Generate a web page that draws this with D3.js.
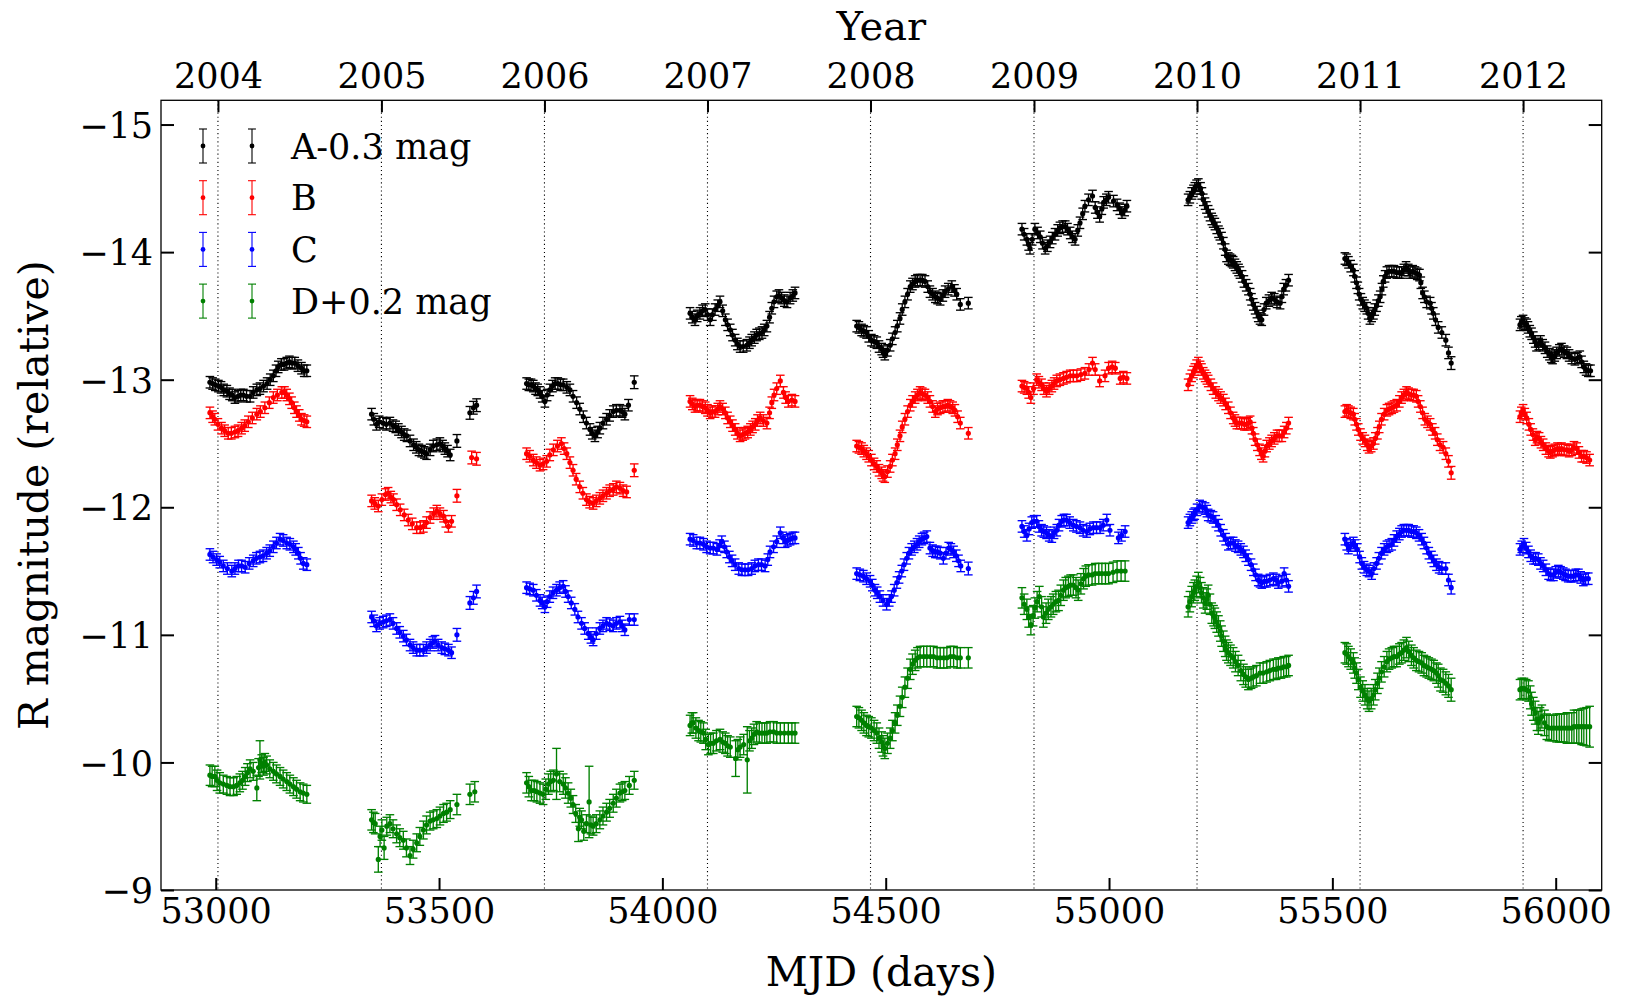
<!DOCTYPE html>
<html>
<head>
<meta charset="utf-8">
<script src="https://cdn.jsdelivr.net/npm/d3@7"></script>
<style>
  body { margin: 0; background: #fff; }
  svg { display: block; }
  text { font-family: "DejaVu Serif", serif; fill: #000; }
</style>
</head>
<body>
<div id="chart"></div>
<script>
// Light curves of the four lensed images (R band): MJD vs magnitude
// each point: [MJD, magnitude] or [MJD, magnitude, error]; missing error -> series default

const seriesNames = ["A-0.3 mag", "B", "C", "D+0.2 mag"];
const seriesColors = ["#000000", "#ff0000", "#0000ff", "#008000"];
const defaultErr = [0.045, 0.045, 0.045, 0.08];

const yearLabels = ["2004", "2005", "2006", "2007", "2008", "2009", "2010", "2011", "2012"];
const yearMjd = [53005, 53371, 53736, 54101, 54466, 54832, 55197, 55562, 55927];
const mjdTicks = [53000, 53500, 54000, 54500, 55000, 55500, 56000];
const magTicks = [-15, -14, -13, -12, -11, -10, -9];

const seriesA = [
  [52987,-12.98],[52993,-12.97],[52999,-12.96],[53006,-12.95],[53012,-12.94],[53018,-12.92],[53025,-12.91],[53031,-12.89],
  [53037,-12.88],[53043,-12.86],[53050,-12.87],[53056,-12.88],[53062,-12.88],[53069,-12.87],[53077,-12.87],[53084,-12.90],
  [53092,-12.92],[53099,-12.93],[53107,-12.95],[53115,-12.97],[53122,-13.00],[53129,-13.03],[53135,-13.07],[53140,-13.10],
  [53147,-13.12],[53153,-13.12],[53159,-13.13],[53165,-13.14],[53171,-13.13],[53177,-13.13],[53184,-13.11],[53192,-13.09],
  [53198,-13.07],[53204,-13.07],
  [53349,-12.73],[53354,-12.69],[53360,-12.65],[53366,-12.67],[53375,-12.66],[53382,-12.65],[53390,-12.66],[53397,-12.64],
  [53403,-12.63],[53409,-12.61],[53416,-12.59],[53422,-12.57],[53428,-12.56],[53435,-12.52],[53443,-12.49],[53449,-12.47],
  [53455,-12.45],[53461,-12.44],[53467,-12.43],[53472,-12.42],[53480,-12.45],[53487,-12.48],[53495,-12.49],[53502,-12.50],
  [53508,-12.48],[53513,-12.46],[53519,-12.44],[53525,-12.41],[53540,-12.52,.05],[53569,-12.74,.05],[53577,-12.78,.05],[53584,-12.80,.05],
  [53696,-12.97],[53701,-12.96],[53706,-12.96],[53711,-12.95],[53716,-12.93],[53721,-12.92],[53726,-12.90],[53731,-12.87],
  [53737,-12.83],[53742,-12.88],[53748,-12.92],[53754,-12.95],[53760,-12.97],[53766,-12.97],[53772,-12.96],[53778,-12.96],
  [53786,-12.94],[53793,-12.92],[53800,-12.87],[53808,-12.82],[53815,-12.77],[53823,-12.71],[53830,-12.66],[53838,-12.61],
  [53843,-12.58],[53849,-12.56],[53855,-12.59],[53860,-12.62],[53867,-12.66],[53875,-12.69],[53882,-12.72],[53890,-12.75],
  [53897,-12.76],[53905,-12.76],[53910,-12.75],[53916,-12.73],[53924,-12.80],[53937,-12.98,.05],
  [54062,-13.52],[54067,-13.49],[54073,-13.47],[54078,-13.50],[54084,-13.52],[54090,-13.54],[54096,-13.55],[54101,-13.51],
  [54107,-13.47],[54112,-13.51],[54118,-13.55],[54124,-13.58],[54129,-13.61],[54135,-13.54],[54141,-13.47],[54146,-13.43],
  [54152,-13.39],[54157,-13.35],[54163,-13.31],[54168,-13.28],[54174,-13.26],[54181,-13.26],[54189,-13.27],[54195,-13.29],
  [54200,-13.31],[54206,-13.33],[54211,-13.35],[54217,-13.36],[54223,-13.37],[54228,-13.39],[54234,-13.42],[54240,-13.49],
  [54245,-13.56],[54250,-13.61],[54256,-13.65],[54261,-13.66],[54267,-13.64],[54273,-13.62],[54279,-13.61],[54286,-13.64],
  [54292,-13.66],[54297,-13.68],
  [54435,-13.42],[54440,-13.41],[54446,-13.39],[54451,-13.38],[54457,-13.37],[54462,-13.34],[54468,-13.31],[54474,-13.30],
  [54480,-13.29],[54485,-13.26],[54491,-13.24],[54494,-13.22],[54498,-13.20],[54504,-13.23],[54510,-13.27],[54515,-13.32],
  [54521,-13.37],[54526,-13.42],[54532,-13.48],[54537,-13.55],[54543,-13.61],[54549,-13.67],[54555,-13.73],[54560,-13.75],
  [54566,-13.77],[54571,-13.78],[54577,-13.78],[54582,-13.78],[54588,-13.77],[54594,-13.73],[54599,-13.69],[54605,-13.67],
  [54611,-13.65],[54616,-13.64],[54622,-13.63],[54628,-13.66],[54633,-13.69],[54640,-13.71],[54648,-13.73],[54654,-13.70],
  [54659,-13.67],[54667,-13.59],[54685,-13.60],
  [54805,-14.18],[54810,-14.14],[54816,-14.10],[54820,-14.06],[54823,-14.03],[54828,-14.10],[54834,-14.18],[54840,-14.15],
  [54846,-14.12],[54851,-14.07],[54857,-14.03],[54862,-14.05],[54868,-14.08],[54873,-14.11],[54879,-14.14],[54885,-14.17],
  [54890,-14.19],[54896,-14.20],[54902,-14.20],[54907,-14.18],[54913,-14.15],[54918,-14.12],[54924,-14.10],[54930,-14.17],
  [54935,-14.23],[54941,-14.30],[54946,-14.36],[54954,-14.41],[54963,-14.44],[54969,-14.35],[54974,-14.31],[54979,-14.28],
  [54984,-14.34],[54988,-14.39],[54994,-14.41],[54999,-14.43],[55010,-14.40],[55018,-14.37],[55024,-14.34],[55029,-14.31],
  [55035,-14.33],[55040,-14.36],
  [55177,-14.41],[55181,-14.43],[55185,-14.46],[55189,-14.48],[55192,-14.50],[55196,-14.52],[55200,-14.53],[55205,-14.50],
  [55208,-14.46],[55211,-14.41],[55215,-14.38],[55218,-14.35],[55222,-14.32],[55226,-14.29],[55230,-14.26],[55233,-14.24],
  [55237,-14.22],[55241,-14.19],[55245,-14.16],[55248,-14.14],[55252,-14.11],[55256,-14.07],[55260,-14.02],[55263,-13.97],
  [55267,-13.95],[55271,-13.94],[55275,-13.93],[55278,-13.92],[55282,-13.90],[55286,-13.88],[55290,-13.86],[55293,-13.84],
  [55298,-13.81],[55302,-13.77],[55307,-13.74],[55312,-13.71],[55316,-13.67],[55319,-13.63],[55323,-13.59],[55327,-13.56],
  [55331,-13.53],[55334,-13.50],[55338,-13.48],[55342,-13.47],[55347,-13.55],[55352,-13.60],[55358,-13.62],[55364,-13.64],
  [55370,-13.63],[55376,-13.61],[55383,-13.60],[55387,-13.65],[55391,-13.71],[55396,-13.74],[55402,-13.78],
  [55528,-13.95],[55532,-13.94],[55536,-13.92],[55541,-13.89],[55547,-13.86],[55550,-13.81],[55554,-13.76],[55557,-13.72],
  [55560,-13.67],[55564,-13.63],[55568,-13.60],[55572,-13.58],[55577,-13.56],[55580,-13.52],[55584,-13.48],[55588,-13.50],
  [55592,-13.52],[55595,-13.55],[55599,-13.58],[55603,-13.62],[55607,-13.65],[55611,-13.71],[55614,-13.77],[55618,-13.81],
  [55622,-13.84],[55627,-13.85],[55633,-13.85],[55638,-13.85],[55644,-13.84],[55650,-13.84],[55655,-13.84],[55660,-13.86],
  [55665,-13.88],[55670,-13.86],[55674,-13.84],[55680,-13.85],[55685,-13.84],[55690,-13.83],[55695,-13.82],[55698,-13.76],
  [55702,-13.68],[55706,-13.65],[55711,-13.61],[55719,-13.60],[55722,-13.56],[55726,-13.52],[55731,-13.47],[55737,-13.41],
  [55745,-13.37],[55754,-13.31],[55760,-13.21],[55766,-13.13,.05],
  [55920,-13.43],[55923,-13.45],[55927,-13.46],[55931,-13.44],[55935,-13.43],[55938,-13.41],[55942,-13.38],[55946,-13.36],
  [55950,-13.33],[55954,-13.30],[55957,-13.27],[55962,-13.28],[55966,-13.30],[55971,-13.27],[55976,-13.25],[55981,-13.22],
  [55986,-13.20],[55990,-13.18],[55993,-13.17],[55998,-13.19],[56002,-13.21],[56008,-13.23],[56013,-13.24],[56019,-13.22],
  [56025,-13.21],[56030,-13.19],[56036,-13.17],[56043,-13.16],[56049,-13.17],[56054,-13.18],[56058,-13.14],[56063,-13.10],
  [56068,-13.08],[56073,-13.07],[56078,-13.07]
];

const seriesB = [
  [52987,-12.74],[52993,-12.71],[52998,-12.69],[53005,-12.65],[53013,-12.62],[53020,-12.60],[53028,-12.58],[53035,-12.58],
  [53043,-12.59],[53050,-12.60],[53058,-12.62],[53065,-12.64],[53073,-12.67],[53082,-12.70],[53092,-12.73],[53100,-12.75],
  [53110,-12.78],[53120,-12.82],[53129,-12.86],[53138,-12.88],[53148,-12.90],[53154,-12.90],[53159,-12.88],[53165,-12.85],
  [53170,-12.82],[53176,-12.78],[53181,-12.75],[53187,-12.72],[53192,-12.69],[53198,-12.68],[53204,-12.67],
  [53349,-12.05],[53356,-12.03],[53364,-12.01],[53372,-12.06],[53380,-12.10],[53386,-12.11],[53392,-12.08],[53398,-12.06],
  [53405,-12.02],[53413,-11.98],[53422,-11.94],[53431,-11.90],[53440,-11.87],[53450,-11.84],[53458,-11.84],[53465,-11.85],
  [53472,-11.88],[53480,-11.92],[53488,-11.95],[53495,-11.97],[53502,-11.95],[53510,-11.93],[53515,-11.89],[53521,-11.85],
  [53528,-11.89],[53540,-12.09,.05],[53573,-12.39,.05],[53584,-12.38,.05],
  [53696,-12.42],[53703,-12.40],[53711,-12.37],[53718,-12.35],[53726,-12.33],[53733,-12.34],[53741,-12.36],[53748,-12.41],
  [53756,-12.45],[53765,-12.48],[53774,-12.50],[53780,-12.46],[53786,-12.42],[53793,-12.35],[53800,-12.29],[53807,-12.22],
  [53815,-12.16],[53822,-12.11],[53830,-12.06],[53837,-12.04],[53845,-12.03],[53852,-12.05],[53860,-12.07],[53867,-12.09],
  [53875,-12.11],[53882,-12.13],[53890,-12.14],[53897,-12.16],[53905,-12.15],[53912,-12.13],[53920,-12.12],[53937,-12.29,.05],
  [54062,-12.83],[54067,-12.81],[54073,-12.79],[54078,-12.80],[54084,-12.80],[54090,-12.79],[54096,-12.78],[54101,-12.76],
  [54107,-12.74],[54112,-12.75],[54118,-12.75],[54124,-12.77],[54129,-12.79],[54135,-12.77],[54141,-12.74],[54146,-12.70],
  [54152,-12.67],[54157,-12.64],[54163,-12.61],[54168,-12.58],[54174,-12.56],[54180,-12.57],[54185,-12.58],[54191,-12.59],
  [54197,-12.61],[54202,-12.63],[54208,-12.65],[54213,-12.68],[54219,-12.70],[54226,-12.68],[54234,-12.66],[54240,-12.74],
  [54245,-12.82],[54250,-12.88],[54256,-12.93],[54264,-12.99],[54271,-12.90],[54276,-12.86],[54282,-12.83],[54290,-12.84],
  [54297,-12.83],
  [54435,-12.48],[54440,-12.47],[54446,-12.46],[54451,-12.44],[54457,-12.42],[54462,-12.40],[54468,-12.37],[54474,-12.34],
  [54480,-12.32],[54485,-12.29],[54491,-12.27],[54494,-12.25],[54498,-12.24],[54504,-12.28],[54510,-12.32],[54515,-12.37],
  [54521,-12.42],[54526,-12.49],[54532,-12.56],[54537,-12.63],[54543,-12.69],[54549,-12.75],[54555,-12.80],[54560,-12.83],
  [54566,-12.86],[54571,-12.88],[54577,-12.90],[54582,-12.89],[54588,-12.88],[54594,-12.86],[54599,-12.83],[54605,-12.79],
  [54611,-12.75],[54616,-12.77],[54622,-12.78],[54628,-12.79],[54633,-12.79],[54639,-12.80],[54644,-12.79],[54650,-12.78],
  [54655,-12.76],[54661,-12.71],[54667,-12.66],[54685,-12.58],
  [54805,-12.95],[54810,-12.94],[54816,-12.93],[54820,-12.90],[54825,-12.86],[54831,-12.93],[54838,-13.00],[54843,-12.98],
  [54849,-12.96],[54854,-12.93],[54860,-12.91],[54866,-12.93],[54872,-12.95],[54877,-12.97],[54883,-12.99],[54890,-13.00],
  [54898,-13.01],[54905,-13.02],[54913,-13.03],[54920,-13.03],[54928,-13.03],[54937,-13.04],[54946,-13.05],[54955,-13.08],
  [54963,-13.13],[54969,-13.08],[54979,-12.99],[54991,-13.03],[54999,-13.09],[55007,-13.10],[55014,-13.09],[55025,-13.01],
  [55032,-13.02],[55040,-13.01],
  [55177,-12.96],[55181,-13.00],[55185,-13.03],[55189,-13.06],[55192,-13.08],[55196,-13.11],[55200,-13.13],[55204,-13.10],
  [55207,-13.08],[55211,-13.05],[55215,-13.03],[55219,-13.01],[55222,-12.99],[55228,-12.96],[55233,-12.93],[55239,-12.90],
  [55245,-12.88],[55250,-12.86],[55256,-12.84],[55261,-12.81],[55267,-12.78],[55272,-12.74],[55278,-12.70],[55282,-12.68],
  [55286,-12.66],[55292,-12.66],[55297,-12.66],[55303,-12.65],[55308,-12.65],[55312,-12.66],[55316,-12.67],[55320,-12.62],
  [55323,-12.58],[55327,-12.53],[55332,-12.49],[55337,-12.45],[55341,-12.42],[55345,-12.40],[55349,-12.44],[55353,-12.48],
  [55359,-12.50],[55364,-12.52],[55370,-12.54],[55376,-12.56],[55381,-12.56],[55387,-12.56],[55392,-12.59],[55397,-12.62],
  [55402,-12.66],
  [55528,-12.75],[55532,-12.76],[55536,-12.75],[55541,-12.74],[55547,-12.73],[55550,-12.69],[55554,-12.65],[55558,-12.61],
  [55563,-12.57],[55568,-12.54],[55573,-12.52],[55578,-12.49],[55582,-12.47],[55587,-12.48],[55592,-12.50],[55596,-12.54],
  [55601,-12.58],[55605,-12.63],[55610,-12.69],[55616,-12.73],[55622,-12.76],[55627,-12.77],[55633,-12.78],[55638,-12.79],
  [55644,-12.80],[55650,-12.83],[55655,-12.86],[55660,-12.88],[55666,-12.90],[55671,-12.89],[55677,-12.88],[55682,-12.88],
  [55688,-12.87],[55692,-12.83],[55697,-12.79],[55702,-12.74],[55707,-12.69],[55713,-12.67],[55719,-12.65],[55724,-12.61],
  [55730,-12.58],[55735,-12.53],[55741,-12.49],[55748,-12.47],[55754,-12.42],[55760,-12.36],[55766,-12.27,.05],
  [55920,-12.71],[55923,-12.74],[55927,-12.76],[55931,-12.73],[55935,-12.70],[55940,-12.65],[55944,-12.61],[55949,-12.57],
  [55954,-12.53],[55958,-12.55],[55963,-12.54],[55967,-12.51],[55972,-12.49],[55978,-12.46],[55984,-12.44],[55988,-12.43],
  [55993,-12.44],[55998,-12.45],[56004,-12.46],[56008,-12.45],[56013,-12.46],[56019,-12.45],[56025,-12.45],[56030,-12.44],
  [56036,-12.45],[56041,-12.47],[56047,-12.46],[56052,-12.43],[56058,-12.40],[56063,-12.40],[56069,-12.39],[56076,-12.37]
];

const seriesC = [
  [52987,-11.63],[52994,-11.61],[53002,-11.59],[53009,-11.57],[53017,-11.54],[53026,-11.52],[53036,-11.50],[53043,-11.52],
  [53051,-11.54],[53058,-11.54],[53066,-11.53],[53075,-11.56],[53084,-11.58],[53091,-11.60],[53099,-11.61],[53106,-11.62],
  [53114,-11.64],[53121,-11.66],[53129,-11.69],[53136,-11.72],[53144,-11.75],[53151,-11.74],[53159,-11.72],[53166,-11.71],
  [53174,-11.69],[53179,-11.67],[53185,-11.64],[53190,-11.60],[53196,-11.56],[53204,-11.55],
  [53349,-11.14],[53354,-11.11],[53360,-11.07],[53367,-11.09],[53375,-11.10],[53382,-11.11],[53390,-11.12],[53397,-11.09],
  [53405,-11.05],[53412,-11.02],[53420,-10.99],[53427,-10.96],[53435,-10.92],[53442,-10.90],[53450,-10.88],[53457,-10.88],
  [53465,-10.88],[53472,-10.90],[53480,-10.92],[53486,-10.94],[53491,-10.95],[53498,-10.92],[53506,-10.90],[53513,-10.89],
  [53521,-10.88],[53528,-10.86],[53540,-11.00,.05],[53569,-11.25,.05],[53577,-11.29,.05],[53584,-11.34,.05],
  [53696,-11.37],[53703,-11.36],[53711,-11.35],[53718,-11.31],[53726,-11.27],[53731,-11.25],[53737,-11.22],[53742,-11.26],
  [53748,-11.30],[53755,-11.33],[53763,-11.35],[53770,-11.37],[53778,-11.38],[53783,-11.34],[53789,-11.30],[53796,-11.25],
  [53804,-11.20],[53811,-11.14],[53819,-11.09],[53826,-11.05],[53834,-11.01],[53840,-10.98],[53845,-10.96],[53852,-11.01],
  [53860,-11.05],[53867,-11.07],[53875,-11.09],[53882,-11.08],[53890,-11.07],[53897,-11.09],[53905,-11.10],[53910,-11.07],
  [53916,-11.04],[53926,-11.12],[53937,-11.12],
  [54062,-11.75],[54069,-11.74],[54077,-11.72],[54084,-11.72],[54092,-11.71],[54099,-11.69],[54107,-11.68],[54114,-11.68],
  [54122,-11.67],[54128,-11.70],[54133,-11.73],[54139,-11.69],[54144,-11.65],[54150,-11.61],[54156,-11.58],[54163,-11.55],
  [54171,-11.52],[54178,-11.51],[54185,-11.51],[54192,-11.51],[54200,-11.52],[54207,-11.54],[54215,-11.55],[54222,-11.55],
  [54230,-11.54],[54236,-11.59],[54241,-11.65],[54249,-11.69],[54256,-11.73],[54264,-11.80],[54270,-11.76],[54275,-11.73],
  [54280,-11.74],[54286,-11.75],[54292,-11.76],[54297,-11.76],
  [54435,-11.48],[54442,-11.47],[54450,-11.46],[54457,-11.44],[54465,-11.42],[54470,-11.39],[54476,-11.35],[54481,-11.33],
  [54487,-11.30],[54494,-11.27],[54502,-11.24],[54508,-11.27],[54513,-11.30],[54519,-11.35],[54525,-11.41],[54530,-11.45],
  [54536,-11.50],[54541,-11.55],[54547,-11.60],[54552,-11.64],[54558,-11.67],[54564,-11.69],[54570,-11.71],[54575,-11.73],
  [54581,-11.75],[54586,-11.76],[54592,-11.77],[54599,-11.68],[54605,-11.66],[54611,-11.65],[54616,-11.65],[54622,-11.64],
  [54629,-11.60],[54635,-11.64],[54641,-11.68],[54646,-11.67],[54652,-11.65],[54658,-11.62],[54663,-11.58],[54668,-11.54],
  [54685,-11.52,.05],
  [54805,-11.85],[54810,-11.81],[54816,-11.78],[54821,-11.83],[54827,-11.88],[54832,-11.89],[54838,-11.89],[54843,-11.85],
  [54849,-11.82],[54854,-11.81],[54860,-11.80],[54866,-11.78],[54872,-11.77],[54877,-11.80],[54883,-11.82],[54888,-11.86],
  [54894,-11.89],[54899,-11.90],[54905,-11.90],[54912,-11.88],[54920,-11.86],[54927,-11.85],[54935,-11.84],[54942,-11.82],
  [54950,-11.81],[54957,-11.83],[54965,-11.84],[54972,-11.84],[54980,-11.84],[54987,-11.86],[54995,-11.90],[55002,-11.82],
  [55021,-11.76],[55028,-11.78],[55036,-11.81],
  [55177,-11.88],[55181,-11.90],[55185,-11.92],[55189,-11.94],[55192,-11.95],[55197,-11.98],[55203,-12.01],[55209,-12.00],
  [55215,-11.99],[55219,-11.97],[55222,-11.94],[55228,-11.93],[55233,-11.92],[55239,-11.89],[55245,-11.86],[55250,-11.82],
  [55256,-11.78],[55261,-11.75],[55267,-11.71],[55272,-11.72],[55278,-11.72],[55283,-11.70],[55289,-11.69],[55295,-11.67],
  [55301,-11.65],[55306,-11.62],[55312,-11.59],[55318,-11.55],[55323,-11.51],[55328,-11.47],[55334,-11.43],[55338,-11.42],
  [55342,-11.41],[55348,-11.42],[55353,-11.42],[55360,-11.43],[55368,-11.44],[55374,-11.43],[55379,-11.41],[55387,-11.42],
  [55392,-11.48],[55397,-11.43],[55402,-11.38],
  [55528,-11.75],[55532,-11.71],[55536,-11.68],[55541,-11.70],[55547,-11.72],[55551,-11.70],[55556,-11.67],[55561,-11.61],
  [55566,-11.56],[55571,-11.53],[55577,-11.51],[55582,-11.50],[55588,-11.48],[55593,-11.52],[55599,-11.56],[55604,-11.60],
  [55610,-11.64],[55616,-11.67],[55622,-11.69],[55627,-11.70],[55633,-11.71],[55638,-11.74],[55644,-11.77],[55650,-11.79],
  [55655,-11.81],[55660,-11.82],[55666,-11.82],[55671,-11.82],[55677,-11.81],[55682,-11.81],[55688,-11.80],[55694,-11.78],
  [55700,-11.75],[55705,-11.72],[55711,-11.68],[55716,-11.64],[55722,-11.61],[55727,-11.58],[55733,-11.55],[55739,-11.53],
  [55745,-11.52],[55754,-11.52],[55760,-11.43],[55766,-11.37,.05],
  [55920,-11.67],[55924,-11.69],[55929,-11.71],[55934,-11.68],[55939,-11.65],[55944,-11.62],[55950,-11.60],[55955,-11.60],
  [55961,-11.59],[55966,-11.56],[55972,-11.54],[55978,-11.51],[55984,-11.48],[55989,-11.47],[55995,-11.47],[56000,-11.49],
  [56006,-11.50],[56011,-11.49],[56017,-11.48],[56022,-11.47],[56028,-11.46],[56034,-11.46],[56040,-11.46],[56045,-11.47],
  [56051,-11.47],[56056,-11.45],[56062,-11.43],[56067,-11.44],[56073,-11.44]
];

const seriesD = [
  [52987,-9.90],[52992,-9.89],[52998,-9.89],[53003,-9.86],[53009,-9.84],[53017,-9.83,.07],[53025,-9.82,.07],[53032,-9.81,.07],
  [53040,-9.81,.07],[53047,-9.82,.07],[53054,-9.84,.07],[53060,-9.86,.07],[53066,-9.89,.07],[53071,-9.92,.07],[53077,-9.95,.07],
  [53084,-9.93,.07],[53092,-9.80,.1],[53096,-9.96,.07],[53099,-10.02,.15],[53103,-9.99,.07],[53107,-9.97,.07],[53110,-10.00,.07],
  [53114,-9.98,.07],[53121,-9.95,.07],[53129,-9.93,.07],[53136,-9.91,.07],[53144,-9.89,.07],[53151,-9.87,.07],[53159,-9.85,.07],
  [53166,-9.83,.07],[53174,-9.81,.07],[53181,-9.79,.07],[53189,-9.77,.07],[53196,-9.76,.07],[53204,-9.75,.07],
  [53349,-9.55],[53353,-9.53],[53357,-9.52],[53364,-9.24,.1],[53368,-9.42],[53372,-9.47],[53377,-9.33,.09],[53383,-9.50,.07],
  [53390,-9.52,.07],[53397,-9.48,.07],[53405,-9.44,.07],[53412,-9.41,.07],[53420,-9.39,.07],[53427,-9.33,.07],[53435,-9.27,.07],
  [53442,-9.32,.07],[53450,-9.37,.07],[53457,-9.42,.07],[53465,-9.47,.07],[53472,-9.51,.07],[53480,-9.54,.07],[53487,-9.55,.07],
  [53495,-9.56,.07],[53502,-9.58,.07],[53510,-9.60,.07],[53517,-9.61,.07],[53525,-9.63,.07],[53540,-9.67],[53569,-9.75],[53580,-9.77],
  [53696,-9.84],[53701,-9.81],[53707,-9.78],[53713,-9.78],[53719,-9.77],[53726,-9.76],[53733,-9.75],[53739,-9.79],
  [53745,-9.83],[53750,-9.85],[53756,-9.86],[53763,-9.91,.2],[53770,-9.85],[53778,-9.83],[53783,-9.80],[53789,-9.76],
  [53795,-9.72,.07],[53800,-9.67,.07],[53806,-9.60,.07],[53812,-9.48,.1],[53815,-9.57,.07],[53819,-9.55,.07],[53824,-9.46,.07],
  [53830,-9.52,.07],[53836,-9.69,.28],[53840,-9.51,.07],[53845,-9.50,.07],[53852,-9.52,.07],[53860,-9.55,.07],[53867,-9.58,.07],
  [53875,-9.61,.07],[53882,-9.64,.07],[53890,-9.68,.07],[53897,-9.72,.07],[53905,-9.76,.07],[53910,-9.77,.07],[53916,-9.78,.07],
  [53926,-9.82,.07],[53937,-9.86,.07],
  [54062,-10.29],[54066,-10.31],[54069,-10.31],[54075,-10.27],[54081,-10.25],[54086,-10.24],[54092,-10.23],[54097,-10.18],
  [54103,-10.14],[54108,-10.15],[54114,-10.15],[54121,-10.17],[54129,-10.18],[54135,-10.16],[54141,-10.15],[54146,-10.13],
  [54152,-10.12],[54164,-10.03,.14],[54169,-10.10],[54174,-10.12],[54182,-10.14],[54190,-10.02,.26],[54195,-10.17],[54200,-10.19],
  [54205,-10.22],[54211,-10.24],[54217,-10.23],[54223,-10.23],[54229,-10.23],[54234,-10.23],[54241,-10.24],[54249,-10.24],
  [54256,-10.23],[54264,-10.23],[54273,-10.23],[54282,-10.23],[54290,-10.23],[54297,-10.23],
  [54435,-10.36],[54440,-10.35],[54446,-10.33],[54451,-10.31],[54457,-10.29],[54462,-10.28],[54468,-10.27],[54474,-10.25],
  [54480,-10.23],[54485,-10.19],[54491,-10.16],[54494,-10.13],[54498,-10.11],[54504,-10.15],[54510,-10.19],[54515,-10.25],
  [54521,-10.31],[54526,-10.37],[54532,-10.44],[54537,-10.51],[54543,-10.59],[54549,-10.66],[54555,-10.73],[54560,-10.77],
  [54566,-10.80],[54571,-10.82],[54577,-10.83],[54585,-10.83],[54592,-10.83],[54600,-10.83],[54607,-10.83],[54615,-10.82],
  [54622,-10.82],[54630,-10.82],[54637,-10.82],[54645,-10.83],[54652,-10.83],[54660,-10.82],[54667,-10.82],[54685,-10.82],
  [54805,-11.29],[54810,-11.24],[54816,-11.20],[54820,-11.14],[54825,-11.08],[54830,-11.15],[54834,-11.21],[54839,-11.26],
  [54844,-11.30],[54849,-11.22],[54853,-11.14],[54859,-11.17],[54864,-11.20],[54870,-11.22],[54875,-11.24],[54881,-11.26],
  [54887,-11.27],[54892,-11.31],[54898,-11.35],[54903,-11.37],[54909,-11.38],[54914,-11.39],[54920,-11.39],[54926,-11.37],
  [54931,-11.35],[54937,-11.40],[54943,-11.44],[54948,-11.46],[54954,-11.47],[54962,-11.47],[54969,-11.48],[54977,-11.48],
  [54984,-11.48],[54992,-11.48],[54999,-11.48],[55009,-11.49],[55018,-11.50],[55027,-11.50],[55036,-11.50],
  [55177,-11.22],[55181,-11.26],[55185,-11.30],[55189,-11.33],[55192,-11.35],[55196,-11.38],[55200,-11.41],[55204,-11.37],
  [55207,-11.33],[55211,-11.29],[55215,-11.25],[55219,-11.28],[55222,-11.31],[55226,-11.24],[55230,-11.17],[55234,-11.15],
  [55237,-11.13],[55241,-11.10],[55245,-11.07],[55249,-11.03],[55252,-10.99],[55256,-10.95],[55260,-10.91],[55263,-10.88],
  [55267,-10.86],[55272,-10.84],[55278,-10.82],[55283,-10.79],[55289,-10.76],[55295,-10.72],[55301,-10.69],[55306,-10.67],
  [55312,-10.65],[55318,-10.66],[55323,-10.67],[55330,-10.68],[55338,-10.70],[55345,-10.70],[55353,-10.71],[55360,-10.72],
  [55368,-10.73],[55374,-10.73],[55379,-10.74],[55385,-10.74],[55391,-10.75],[55397,-10.75],[55402,-10.76],
  [55528,-10.86],[55532,-10.85],[55536,-10.83],[55541,-10.81],[55547,-10.78],[55550,-10.74],[55554,-10.70],[55558,-10.65],
  [55563,-10.59],[55568,-10.56],[55573,-10.53],[55578,-10.50],[55582,-10.48],[55587,-10.50],[55592,-10.53],[55596,-10.57],
  [55601,-10.62],[55605,-10.66],[55610,-10.71],[55616,-10.75],[55622,-10.79],[55627,-10.81],[55633,-10.82],[55638,-10.83],
  [55644,-10.83],[55650,-10.85],[55655,-10.86],[55660,-10.88],[55666,-10.90],[55671,-10.87],[55677,-10.84],[55682,-10.82],
  [55688,-10.80],[55694,-10.79],[55700,-10.78],[55705,-10.76],[55711,-10.75],[55716,-10.74],[55722,-10.73],[55727,-10.72],
  [55733,-10.70],[55737,-10.68,.09],[55742,-10.65,.09],[55748,-10.64,.09],[55754,-10.62,.09],[55760,-10.60,.09],[55766,-10.57,.09],
  [55920,-10.57],[55924,-10.58],[55929,-10.58],[55934,-10.57],[55939,-10.56],[55943,-10.51,.09],[55946,-10.46,.09],[55950,-10.42,.09],
  [55954,-10.39,.09],[55958,-10.34,.09],[55961,-10.31,.09],[55965,-10.34,.09],[55969,-10.36,.09],[55975,-10.31,.1],[55980,-10.28,.1],
  [55985,-10.27,.1],[55991,-10.27,.1],[55996,-10.27,.1],[56002,-10.27,.11],[56008,-10.27,.11],[56013,-10.27,.11],[56019,-10.27,.11],
  [56025,-10.27,.12],[56030,-10.27,.12],[56036,-10.27,.12],[56041,-10.28,.13],[56047,-10.28,.13],[56052,-10.28,.13],[56058,-10.28,.14],
  [56063,-10.28,.145],[56069,-10.28,.15],[56076,-10.28,.16]
];

const allSeries = [seriesA, seriesB, seriesC, seriesD];

const width = 1636, height = 1000;
const box = { left: 161, right: 1601.7, top: 100.3, bottom: 890 };
const FONT = "DejaVu Serif";

const svg = d3.select("#chart").append("svg")
  .attr("width", width)
  .attr("height", height)
  .attr("viewBox", `0 0 ${width} ${height}`);

const x = d3.scaleLinear().domain([52877.5, 56103]).range([box.left, box.right]);
const y = d3.scaleLinear().domain([-9, -15.19]).range([box.bottom, box.top]);

// year markers (Jan 1)
svg.append("g")
  .selectAll("line")
  .data(yearMjd)
  .join("line")
  .attr("x1", d => x(d)).attr("x2", d => x(d))
  .attr("y1", box.top).attr("y2", box.bottom)
  .attr("stroke", "#000")
  .attr("stroke-width", 1.1)
  .attr("stroke-dasharray", "1.1,3");

// data with error bars
const capW = 4.3;
allSeries.forEach((data, si) => {
  const col = seriesColors[si];
  const err = d => (d.length > 2 ? d[2] : defaultErr[si]);
  const g = svg.append("g").attr("stroke", col).attr("fill", col).attr("stroke-width", 1.35);
  const pt = g.selectAll("g").data(data).join("g");
  pt.append("line")
    .attr("x1", d => x(d[0])).attr("x2", d => x(d[0]))
    .attr("y1", d => y(d[1] - err(d))).attr("y2", d => y(d[1] + err(d)));
  pt.append("line")
    .attr("x1", d => x(d[0]) - capW).attr("x2", d => x(d[0]) + capW)
    .attr("y1", d => y(d[1] - err(d))).attr("y2", d => y(d[1] - err(d)));
  pt.append("line")
    .attr("x1", d => x(d[0]) - capW).attr("x2", d => x(d[0]) + capW)
    .attr("y1", d => y(d[1] + err(d))).attr("y2", d => y(d[1] + err(d)));
  pt.append("circle")
    .attr("cx", d => x(d[0])).attr("cy", d => y(d[1]))
    .attr("r", 2.6).attr("stroke", "none");
});

// axes with inward ticks
const fmtMag = d => "\u2212" + Math.abs(d);
function styleAxis(g) {
  g.select(".domain").remove();
  g.selectAll(".tick line").attr("stroke", "#000").attr("stroke-width", 2);
  g.selectAll(".tick text").attr("font-size", 35).attr("font-family", FONT);
}

svg.append("g")
  .attr("transform", `translate(0,${box.bottom})`)
  .call(d3.axisBottom(x).tickValues(mjdTicks).tickFormat(d3.format("d")).tickSizeInner(-12).tickSizeOuter(0).tickPadding(8))
  .call(styleAxis);

svg.append("g")
  .attr("transform", `translate(0,${box.top})`)
  .call(d3.axisTop(x).tickValues(yearMjd).tickFormat((d, i) => yearLabels[i]).tickSizeInner(-12).tickSizeOuter(0).tickPadding(12))
  .call(styleAxis);

svg.append("g")
  .attr("transform", `translate(${box.left},0)`)
  .call(d3.axisLeft(y).tickValues(magTicks).tickFormat(fmtMag).tickSizeInner(-13).tickSizeOuter(0).tickPadding(8))
  .call(styleAxis)
  .selectAll(".tick text").attr("dy", "0.36em");

svg.append("g")
  .attr("transform", `translate(${box.right},0)`)
  .call(d3.axisRight(y).tickValues(magTicks).tickFormat("").tickSizeInner(-13).tickSizeOuter(0))
  .call(styleAxis);

// frame
svg.append("rect")
  .attr("x", box.left).attr("y", box.top)
  .attr("width", box.right - box.left).attr("height", box.bottom - box.top)
  .attr("fill", "none").attr("stroke", "#000").attr("stroke-width", 1.3);

// axis titles
const cx = (box.left + box.right) / 2;
svg.append("text").attr("x", cx).attr("y", 40).attr("text-anchor", "middle")
  .attr("font-family", FONT).attr("font-size", 40).text("Year");
svg.append("text").attr("x", cx).attr("y", 986).attr("text-anchor", "middle")
  .attr("font-family", FONT).attr("font-size", 41).text("MJD (days)");
svg.append("text")
  .attr("transform", `translate(48,${(box.top + box.bottom) / 2}) rotate(-90)`)
  .attr("text-anchor", "middle")
  .attr("font-family", FONT).attr("font-size", 41).text("R magnitude (relative)");

// legend: two sample points per entry, no frame
const legend = svg.append("g");
seriesNames.forEach((name, i) => {
  const ly = 146 + i * 51.7;
  const col = seriesColors[i];
  const row = legend.append("g").attr("stroke", col).attr("fill", col).attr("stroke-width", 1.1);
  [203, 252].forEach(lx => {
    row.append("line").attr("x1", lx).attr("x2", lx).attr("y1", ly - 17).attr("y2", ly + 17);
    row.append("line").attr("x1", lx - 4).attr("x2", lx + 4).attr("y1", ly - 17).attr("y2", ly - 17);
    row.append("line").attr("x1", lx - 4).attr("x2", lx + 4).attr("y1", ly + 17).attr("y2", ly + 17);
    row.append("circle").attr("cx", lx).attr("cy", ly).attr("r", 2.4).attr("stroke", "none");
  });
  legend.append("text").attr("x", 291).attr("y", ly).attr("dy", "0.36em")
    .attr("font-family", FONT).attr("font-size", 35).text(name);
});
</script>
</body>
</html>
